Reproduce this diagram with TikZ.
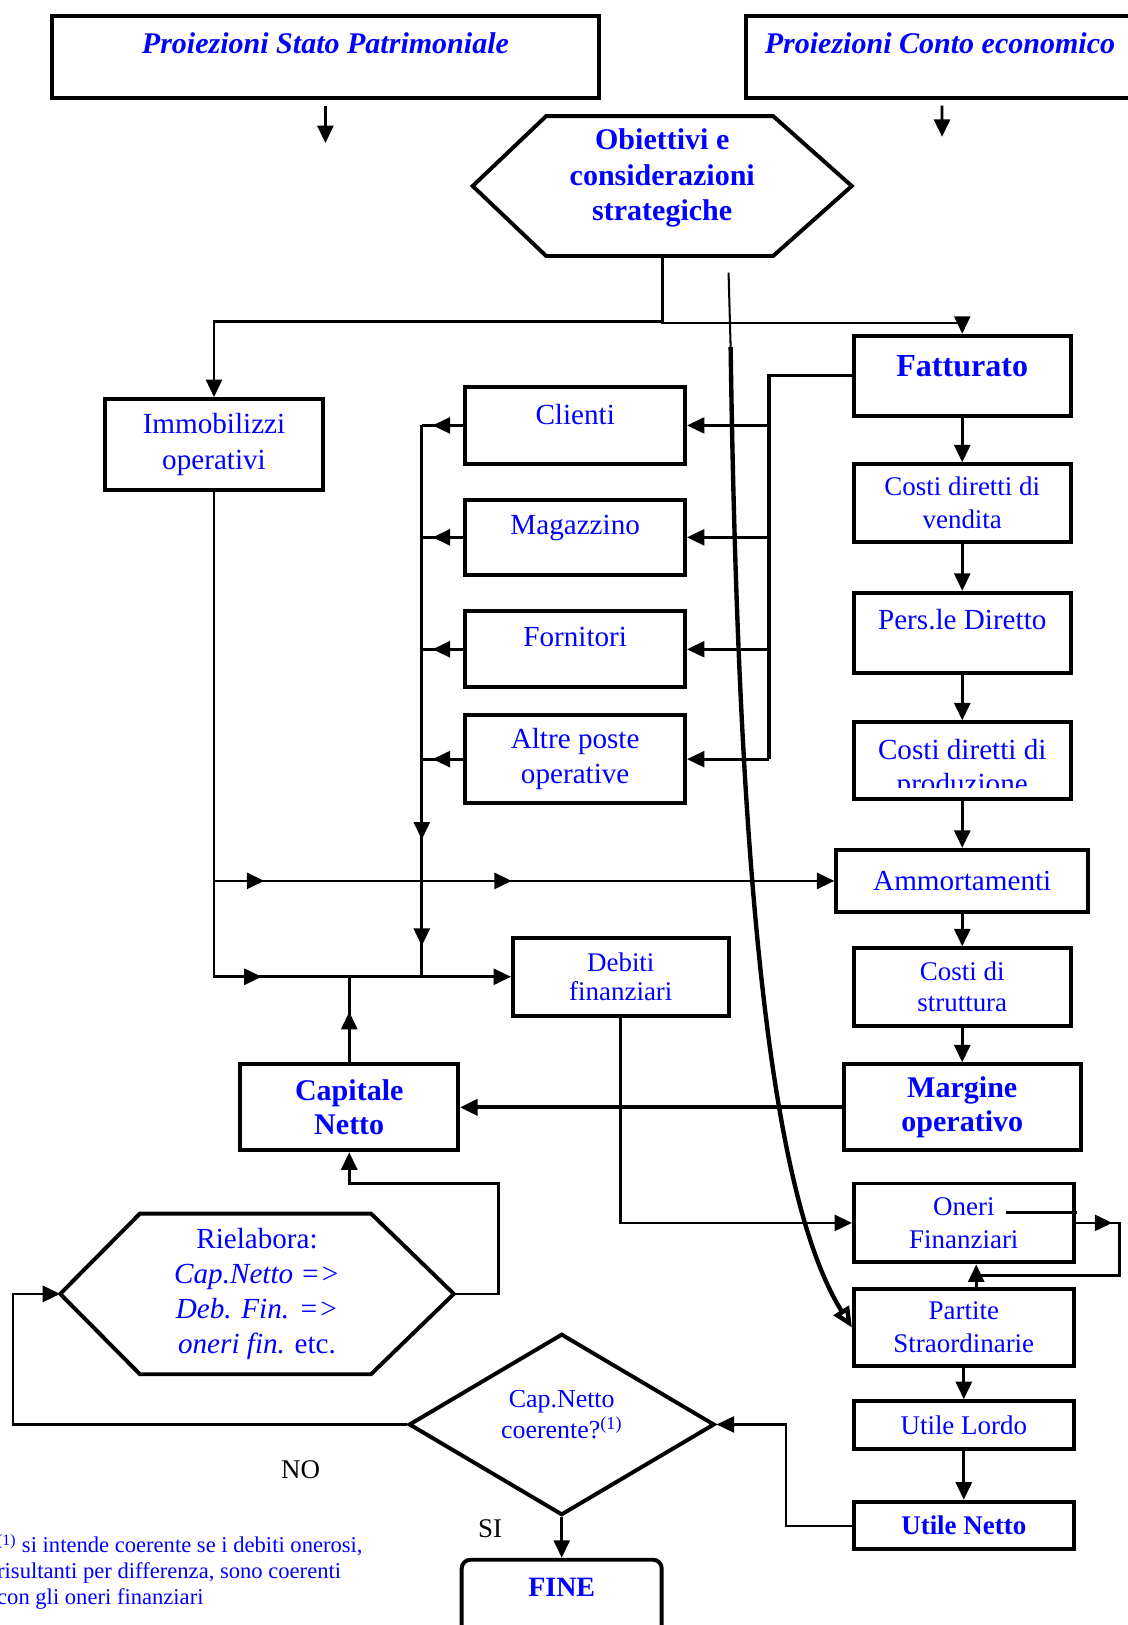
\documentclass[tikz,border=0pt]{standalone}
\usepackage{fontspec}
\setmainfont{Liberation Serif}
\usetikzlibrary{arrows.meta,shapes.geometric,decorations.markings}
\begin{document}
\begin{tikzpicture}[x=0.025cm,y=-0.025cm,>={Triangle[length=12pt,width=11pt]},line join=miter,
    box/.style={draw,line width=2.7pt,text=blue,align=center,inner sep=0pt},
    sz/.style 2 args={minimum width=#1*0.025cm,minimum height=#2*0.025cm},
    fs/.style 2 args={font=\fontsize{#1}{#2}\selectfont},
    fbs/.style 2 args={font=\bfseries\fontsize{#1}{#2}\selectfont},
    conn/.style={line width=1.9pt},
    lite/.style={line width=1.4pt},
    midarr/.style={postaction={decorate,decoration={markings,mark=at position #1 with {\arrow{>}}}}}]
    \useasboundingbox (0,0) rectangle (1088,1568);
    % intestazioni
    \node[box,sz={528}{80},font=\bfseries\itshape\fontsize{20.6}{24}\selectfont,text depth=18.5pt] (psp) at (314,55) {Proiezioni Stato Patrimoniale};
    \node[box,sz={374}{80},font=\bfseries\itshape\fontsize{20.6}{24}\selectfont,text depth=18.5pt] (pce) at (907,55) {Proiezioni Conto economico};
    \coordinate (pspa) at (314,138);
    \coordinate (pcea) at (909,132);
    \draw[conn,->] ([yshift=-3.5pt]psp.south) -- (pspa);
    \draw[conn,->] ([xshift=1.4pt,yshift=-3.5pt]pce.south) -- (pcea);
    % obiettivi
    \node[box,draw=none,sz={362}{135},fbs={20.6}{24.2},text depth=15.6pt] (obj) at (639,179.5) {Obiettivi e\\considerazioni\\strategiche};
    \draw[line width=2.7pt] (527,112) -- (746,112) -- (obj.east) -- (746,247) -- (527,247) -- (obj.west) -- cycle;
    % stato patrimoniale
    \node[box,sz={211}{88},fs={20}{24.2}] (imm) at (206.5,429) {Immobilizzi\\operativi};
    \node[box,sz={212}{75},fs={20}{24},text depth=15pt] (cli) at (555,410.5) {Clienti};
    \node[box,sz={212}{73},fs={20}{24},text depth=17.8pt] (mag) at (555,518.5) {Magazzino};
    \node[box,sz={212}{73},fs={20}{24},text depth=16.4pt] (forn) at (555,626.5) {Fornitori};
    \node[box,sz={212}{85},fs={20}{24.2}] (alt) at (555,732.5) {Altre poste\\operative};
    \node[box,sz={208}{75},fs={18.5}{20}] (deb) at (599,942.5) {Debiti\\finanziari};
    \node[box,sz={210}{83},fbs={20.6}{23.5}] (cap) at (337,1068.5) {Capitale\\Netto};
    % conto economico
    \node[box,sz={209}{77},fbs={22}{26},text depth=13.5pt] (fat) at (928.5,362.5) {Fatturato};
    \node[box,sz={209}{75},fs={18.5}{22.8}] (cdv) at (928.5,485.5) {Costi diretti di\\vendita};
    \node[box,sz={209}{77},fs={20}{24},text depth=17.8pt] (pers) at (928.5,610.5) {Pers.le Diretto};
    \node[box,sz={209}{74}] (cdp) at (928.5,734) {};
    \begin{scope}
        \clip (826,699) rectangle (1031,760);
        \node[text=blue,align=center,inner sep=0pt,fs={20}{22.8}] (cdpt) at (928.5,742.5) {Costi diretti di\\produzione};
    \end{scope}
    \node[box,sz={243}{60},fs={20}{24}] (amm) at (928.5,850) {Ammortamenti};
    \node[box,sz={209}{75},fs={18.5}{21.3}] (cds) at (928.5,952.5) {Costi di\\struttura};
    \node[box,sz={229}{83},fbs={20.6}{23.5}] (marg) at (928.5,1068.5) {Margine\\operativo};
    \node[box,sz={212}{76},fs={18.5}{22.8}] (oneri) at (930,1180) {Oneri\\Finanziari};
    \node[box,sz={212}{74},fs={18.5}{22.8}] (part) at (930,1281) {Partite\\Straordinarie};
    \node[box,sz={212}{46},fs={18.5}{22}] (ul) at (930,1375) {Utile Lordo};
    \node[box,sz={212}{46},fbs={18.5}{22}] (un) at (930,1472) {Utile Netto};
    % verifica
    \node[box,draw=none,sz={376}{155},fs={20}{24.2}] (riel) at (248,1248.5) {Rielabora:\\\textit{Cap.Netto =>}\\\textit{Deb. Fin. =>}\\\textit{oneri fin.} etc.};
    \draw[line width=2.7pt] (135,1171) -- (358,1171) -- (riel.east) -- (358,1326) -- (135,1326) -- (riel.west) -- cycle;
    \node[box,diamond,aspect=1.7,sz={295}{175},fs={17.8}{21.3},text depth=13.5pt] (dia) at (542,1374.5) {Cap.Netto\\coerente?\textsuperscript{(1)}};
    \node[box,rounded corners=6pt,sz={193}{110},fbs={19.2}{22},text depth=39.8pt] (fine) at (542,1560) {FINE};
    \node[fs={18.5}{22}] (no) at (290,1418) {NO};
    \node[fs={18.5}{22}] (si) at (473,1475) {SI};
    \node[anchor=north west,inner sep=0pt,align=left,text=blue,fs={15.5}{17.8}] (nota) at (-3,1480) {\textsuperscript{(1)} si intende coerente se i debiti onerosi,\\risultanti per differenza, sono coerenti\\con gli oneri finanziari};
    % collegamenti
    \draw[conn,->] (obj.south) -- ++(0,61) -| (imm.north);
    \draw[lite,->] (obj.south) -- ++(0,63) -| (fat.north);
    \coordinate (rbus) at (742,362.5);
    \coordinate (lbus) at (407,410.5);
    \draw[line width=2.4pt] (fat.west) -- (rbus) -- (rbus |- alt.east);
    \foreach \n in {cli,mag,forn,alt} {
        \draw[conn,->] (rbus |- \n.east) -- (\n.east);
        \draw[conn,midarr=0.74] (\n.west) -- (lbus |- \n.west);
    }
    \draw[conn,midarr=0.751,midarr=0.944] (lbus) -- (lbus |- deb.west);
    \draw[conn,->,midarr=0.681] (imm.south) |- (deb.west);
    \draw[conn,->,midarr=0.081,midarr=0.48] (imm.south |- amm.west) -- (amm.west);
    \draw[conn,midarr=0.59] (cap.north) -- (cap.north |- deb.west);
    \draw[line width=2.6pt,->] (marg.west) -- (cap.east);
    \draw[conn,->] (deb.south) |- (oneri.west);
    \foreach \a/\b in {fat/cdv,cdv/pers,pers/cdp,cdp/amm,amm/cds,cds/marg,part/ul,ul/un}
        \draw[conn,->] (\a.south) -- (\b.north);
    \coordinate (onx) at (971,1170);
    \coordinate (olp) at (942,1231);
    \draw[conn] (onx) -- ++(68,0);
    \draw[conn,midarr=0.153] (oneri.east) -- ++(42,0) |- (olp);
    \draw[conn,->] (olp |- part.north) -- ++(0,-22);
    \coordinate (cvs) at (703,263);
    \draw[lite] (cvs) -- ++(2,72) coordinate (cvm);
    \draw[line width=3pt,-{Triangle[open,length=14pt,width=12pt]}] (cvm) .. controls (712,820) and (740,1150) .. (part.west);
    \draw[lite,->] (un.west) -- ++(-64,0) |- (dia.east);
    \draw[conn,->] (dia.west) -- ++(-380,0) |- (riel.west);
    \draw[conn,->] (riel.east) -- ++(43,0) -- ++(0,-106.5) -| (cap.south);
    \draw[conn,->] (dia.south) -- (fine.north);
\end{tikzpicture}
\end{document}
